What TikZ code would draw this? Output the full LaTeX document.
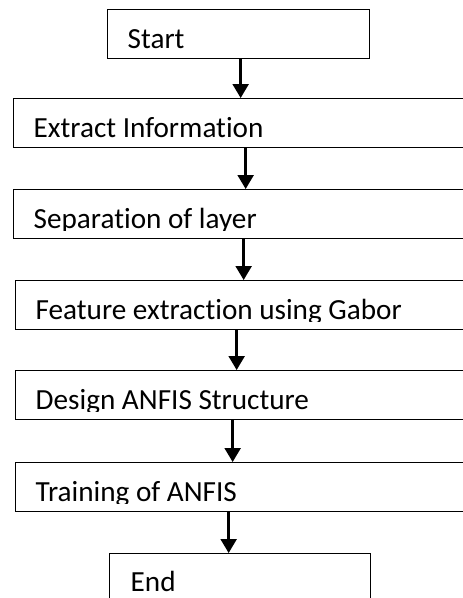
\documentclass[tikz,border=0pt]{standalone}
\usepackage{fontspec}
\setmainfont{Carlito}[Ligatures=NoCommon]
\usetikzlibrary{arrows.meta}
\tikzset{
    flow-box/.style = {draw, line width=1.3pt, rectangle, anchor=north west, minimum height=49pt, inner sep=0pt},
    flow-label/.style = {anchor=base west, inner sep=0pt, font=\fontsize{29.2}{33}\selectfont},
    flow-arrow/.style = {-{Triangle[width=16pt,length=14pt]}, line width=2.4pt},
}

\begin{document}
\begin{tikzpicture}[x=1pt, y=-1pt]
\clip (0,0) rectangle (463,598);
\node[flow-box, minimum width=262pt] (start) at (107,9) {};
\node[flow-box, minimum width=480pt] (extract) at (13,98) {};
\node[flow-box, minimum width=480pt] (layer) at (13,189) {};
\node[flow-box, minimum width=480pt] (gabor) at (15,280) {};
\node[flow-box, minimum width=480pt] (design) at (15,370) {};
\node[flow-box, minimum width=480pt] (train) at (15,462) {};
\node[flow-box, minimum width=261pt, minimum height=60pt] (end) at (109,553) {};

% box texts, cut off at the baseline as in the original
\foreach \name/\txt in {start/Start, extract/Extract Information, layer/Separation of layer,
    gabor/Feature extraction using Gabor, design/Design ANFIS Structure, train/Training of ANFIS} {
  \begin{scope}
    \clip (\name.north west) rectangle ([yshift=9.3pt]\name.south east);
    \node[flow-label] (\name-text) at ([xshift=20.5pt,yshift=-39.5pt]\name.north west) {\txt};
  \end{scope}
}
\node[flow-label] (end-text) at ([xshift=21.5pt,yshift=-38pt]end.north west) {End};

\draw[flow-arrow] ([xshift=2pt]start.south) -- ([xshift=2pt]start.south |- extract.north);
\draw[flow-arrow] ([xshift=-8pt]extract.south) -- ([xshift=-8pt]extract.south |- layer.north);
\draw[flow-arrow] ([xshift=-10pt]layer.south) -- ([xshift=-10pt]layer.south |- gabor.north);
\draw[flow-arrow] ([xshift=-19pt]gabor.south) -- ([xshift=-19pt]gabor.south |- design.north);
\draw[flow-arrow] ([xshift=-23pt]design.south) -- ([xshift=-23pt]design.south |- train.north);
\draw[flow-arrow] ([xshift=-27pt]train.south) -- ([xshift=-27pt]train.south |- end.north);
\end{tikzpicture}
\end{document}
